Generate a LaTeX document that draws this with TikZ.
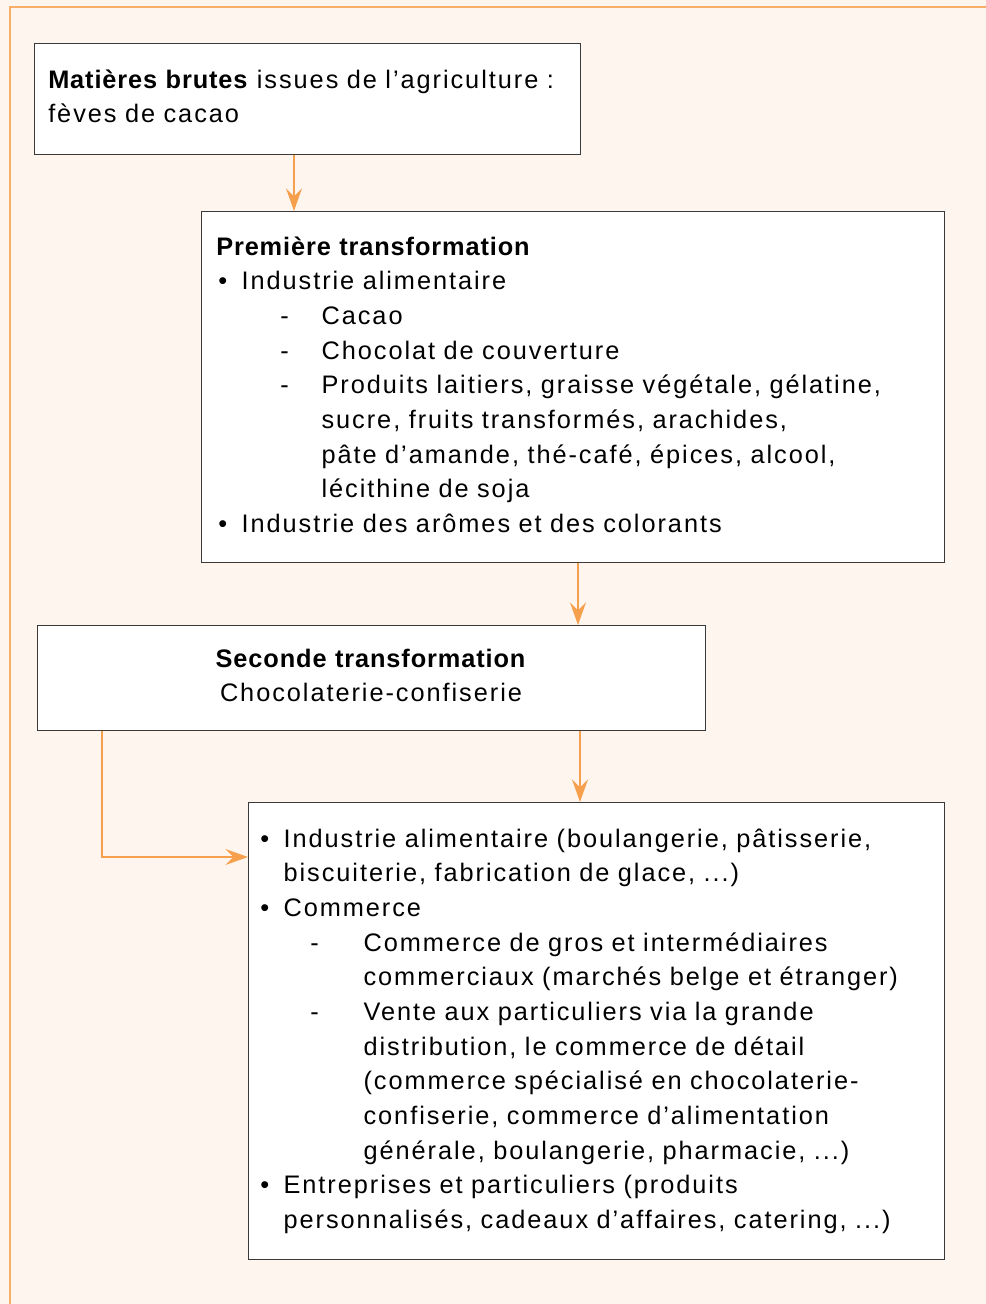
\documentclass[tikz,border=0pt]{standalone}
\usepackage{fontspec}
\setmainfont{Liberation Sans}[LetterSpace=7.7, BoldFeatures={LetterSpace=3.5}]
\usetikzlibrary{arrows.meta, positioning}

\definecolor{orangeflux}{HTML}{F6A04D}
\definecolor{fond}{HTML}{FEF5EE}
\definecolor{trait}{HTML}{3A3A3A}

\newcommand{\puce}{\makebox[19pt][l]{\hspace{1.5pt}\textbullet}}
\newcommand{\tiret}[1]{\hspace*{#1}\makebox[\dimexpr 79pt-#1\relax][l]{-}}
\newcommand{\suite}[1]{\hspace*{#1}}

\tikzset{
  boite/.style={draw=trait, line width=1.1pt, fill=white, inner sep=0pt, anchor=north west},
  texte/.style={anchor=base west, inner sep=0pt, align=left, font=\fontsize{19}{26}\selectfont},
  fleche/.style={draw=orangeflux, line width=1.6pt, -{Stealth[length=17pt, width=12pt, inset=6pt]}},
}

\begin{document}
\begin{tikzpicture}[x=0.75pt, y=-0.75pt]
\useasboundingbox (0,0) rectangle (986,1304);
\fill[fond] (0,0) rectangle (986,1304);
\draw[orangeflux!85, line width=1.5pt] (986,7) -- (10,7) -- (10,1304);

% boxes
\node[boite, minimum width=409.5pt, minimum height=83.25pt] (brut) at (34,43) {};
\node[boite, minimum width=557.25pt, minimum height=263.25pt] (premiere) at (201,211) {};
\node[boite, minimum width=501pt, minimum height=78.75pt] (seconde) at (37,625) {};
\node[boite, minimum width=522pt, minimum height=342.75pt] (final) at (248,802) {};

% texts
\node[texte, text width=400pt] (t-brut) at (48,88)
  {\textbf{Matières brutes} issues de l’agriculture :\\ fèves de cacao};
\node[texte, text width=530pt] (t-premiere) at (216,255)
  {\textbf{Première transformation}\\
   \puce Industrie alimentaire\\
   \tiret{48pt}Cacao\\
   \tiret{48pt}Chocolat de couverture\\
   \tiret{48pt}Produits laitiers, graisse végétale, gélatine,\\
   \suite{79pt}sucre, fruits transformés, arachides,\\
   \suite{79pt}pâte d’amande, thé-café, épices, alcool,\\
   \suite{79pt}lécithine de soja\\
   \puce Industrie des arômes et des colorants};
\node[texte, anchor=base, align=center, text width=480pt] (t-seconde) at (371,667)
  {\textbf{Seconde transformation}\\ Chocolaterie-confiserie};
\node[texte, text width=510pt] (t-final) at (258,847)
  {\puce Industrie alimentaire (boulangerie, pâtisserie,\\
   \suite{19pt}biscuiterie, fabrication de glace, ...)\\
   \puce Commerce\\
   \tiret{39pt}Commerce de gros et intermédiaires\\
   \suite{79pt}commerciaux (marchés belge et étranger)\\
   \tiret{39pt}Vente aux particuliers via la grande\\
   \suite{79pt}distribution, le commerce de détail\\
   \suite{79pt}(commerce spécialisé en chocolaterie-\\
   \suite{79pt}confiserie, commerce d’alimentation\\
   \suite{79pt}générale, boulangerie, pharmacie, ...)\\
   \puce Entreprises et particuliers (produits\\
   \suite{19pt}personnalisés, cadeaux d’affaires, catering, ...)};

% arrows
\coordinate (f1) at (294,0);
\coordinate (f2) at (578,0);
\coordinate (f3) at (580,0);
\coordinate (coude) at (102,857);
\draw[fleche] (brut.south -| f1) -- (premiere.north -| f1);
\draw[fleche] (premiere.south -| f2) -- (seconde.north -| f2);
\draw[fleche] (seconde.south -| f3) -- (final.north -| f3);
\draw[fleche] (seconde.south -| coude) |- (final.west |- coude);
\end{tikzpicture}
\end{document}
